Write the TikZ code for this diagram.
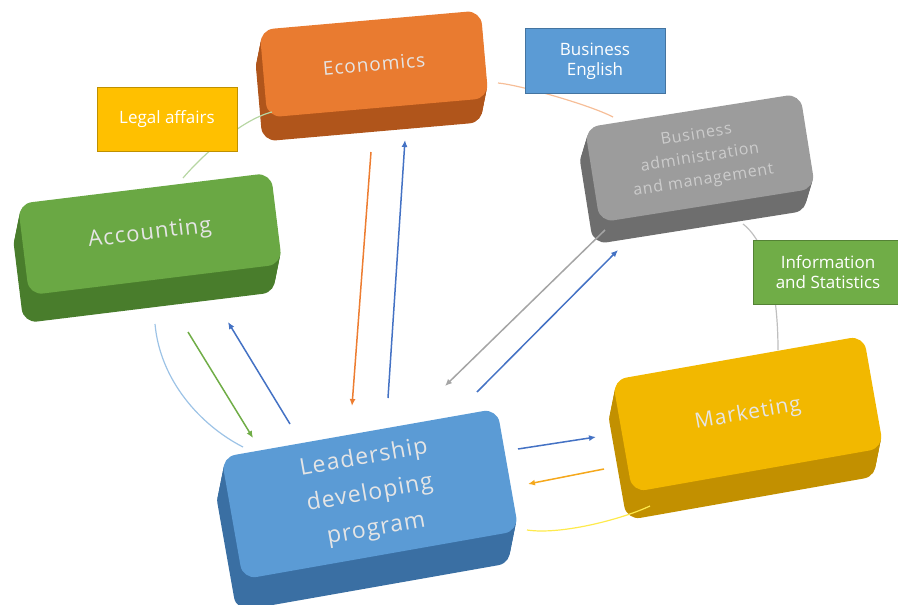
\documentclass[tikz,border=0pt]{standalone}
\usepackage{xcolor}
\usepackage{fontspec}
\setmainfont{Open Sans}
\newfontfamily\slabfont[LetterSpace=5]{Open Sans}
\usetikzlibrary{arrows.meta}

\definecolor{ecoface}{HTML}{E97B30}
\definecolor{ecoside}{HTML}{B0551B}
\definecolor{accface}{HTML}{6AA844}
\definecolor{accside}{HTML}{497D2C}
\definecolor{bamface}{HTML}{9C9C9C}
\definecolor{bamside}{HTML}{6E6E6E}
\definecolor{mktface}{HTML}{F2B800}
\definecolor{mktside}{HTML}{C29000}
\definecolor{ldpface}{HTML}{5B9BD5}
\definecolor{ldpside}{HTML}{3A6FA3}
\definecolor{tagyellow}{HTML}{FFC000}
\definecolor{tagblue}{HTML}{5B9BD5}
\definecolor{taggreen}{HTML}{70AD47}
\definecolor{arrblue}{HTML}{4472C4}
\definecolor{arrorange}{HTML}{ED7D31}
\definecolor{arrgreen}{HTML}{70AD47}
\definecolor{arrgray}{HTML}{A5A5A5}
\definecolor{arryellow}{HTML}{F5A81C}

\tikzset{
  slabface/.style={rectangle, rounded corners=14pt, inner sep=0pt, align=center, text=white!90!black},
  slabside/.style={rectangle, rounded corners=14pt, inner sep=0pt},
  tag/.style={rectangle, draw, line width=1pt, inner sep=0pt, align=center, text=white, font=\fontsize{17}{20}\selectfont},
  link/.style={line width=1.2pt},
  arr/.style={line width=1.5pt, -{Latex[length=7pt,width=6pt]}}
}

\begin{document}
\begin{tikzpicture}[x=1pt, y=-1pt]
  % We will draw the program map here
  \useasboundingbox (0,0) rectangle (898,605);

  % Economics
  \foreach \d in {24,22,...,2}
    \node[slabside, fill=ecoside, minimum width=222pt, minimum height=88pt, xshift={-0.2*\d}, yshift={-\d}, rotate=5] at (374,64) {};
  \node[slabface, fill=ecoface, minimum width=222pt, minimum height=88pt, rotate=5, font=\slabfont\fontsize{19}{22}\selectfont] (eco) at (374,64) {Economics};

  % Accounting
  \foreach \d in {28,26,...,2}
    \node[slabside, fill=accside, minimum width=255pt, minimum height=92pt, xshift={-0.2*\d}, yshift={-\d}, rotate=7] at (150,234) {};
  \node[slabface, fill=accface, minimum width=255pt, minimum height=92pt, rotate=7, font=\slabfont\fontsize{22}{26}\selectfont] (acc) at (150,234) {Accounting};

  % Business administration and management
  \foreach \d in {22,20,...,2}
    \node[slabside, fill=bamside, minimum width=218pt, minimum height=96pt, xshift={-0.3*\d}, yshift={-\d}, rotate=9] at (700,158) {};
  \node[slabface, fill=bamface, minimum width=218pt, minimum height=96pt, rotate=9, text=white!80!black, font=\slabfont\fontsize{16}{23}\selectfont] (bam) at (700,158) {Business\\administration\\and management};

  % Marketing
  \foreach \d in {28,26,...,2}
    \node[slabside, fill=mktside, minimum width=255pt, minimum height=114pt, xshift={-0.2*\d}, yshift={-\d}, rotate=10] at (748,414) {};
  \node[slabface, fill=mktface, minimum width=255pt, minimum height=114pt, rotate=10, font=\slabfont\fontsize{21}{25}\selectfont] (mkt) at (748,414) {Marketing};

  % Leadership developing program
  \foreach \d in {32,30,...,2}
    \node[slabside, fill=ldpside, minimum width=280pt, minimum height=124pt, xshift={-0.2*\d}, yshift={-\d}, rotate=10] at (370,494) {};
  \node[slabface, fill=ldpface, minimum width=280pt, minimum height=124pt, rotate=10, font=\slabfont\fontsize{23}{36}\selectfont] (ldp) at (370,494) {Leadership\\developing\\program};

  % thin links round the ring
  \draw[link, color=arrgreen!50] ([shift={(33,-56)}]acc.center) .. controls (200,158) and (240,120) .. ([shift={(-102,48)}]eco.center);
  \draw[link, color=arrorange!50] ([shift={(124,19)}]eco.center) .. controls (520,85) and (590,105) .. ([shift={(-87,-41)}]bam.center);
  \draw[link, color=black!25] ([shift={(43,66)}]bam.center) .. controls (770,245) and (778,300) .. ([shift={(30,-64)}]mkt.center);
  \draw[link, color=yellow!85!orange!70] ([shift={(-98,92)}]mkt.center) .. controls (620,520) and (560,535) .. ([shift={(157,36)}]ldp.center);
  \draw[link, color=ldpface!60] ([shift={(5,90)}]acc.center) .. controls (160,380) and (200,425) .. ([shift={(-127,-47)}]ldp.center);

  % labels on the links
  \node[tag, fill=tagyellow, draw=tagyellow!75!black, minimum width=140pt, minimum height=64pt] (legal) at (167,119) {Legal affairs};
  \node[tag, fill=tagblue, draw=tagblue!75!black, minimum width=140pt, minimum height=65pt] (beng) at (595,61) {Business\\English};
  \node[tag, fill=taggreen, draw=taggreen!75!black, minimum width=150pt, minimum height=64pt] (info) at (828,272) {Information\\and Statistics};

  % arrows to and from the program
  \draw[arr, color=arrgreen] ([shift={(38,98)}]acc.center) -- ([shift={(-117,-56)}]ldp.center);
  \draw[arr, color=arrblue] ([shift={(-80,-70)}]ldp.center) -- ([shift={(78,88)}]acc.center);
  \draw[arr, color=arrorange] ([shift={(-3,88)}]eco.center) -- ([shift={(-18,-88)}]ldp.center);
  \draw[arr, color=arrblue] ([shift={(18,-96)}]ldp.center) -- ([shift={(31,76)}]eco.center);
  \draw[arr, color=arrgray] ([shift={(-95,72)}]bam.center) -- ([shift={(75,-108)}]ldp.center);
  \draw[arr, color=arrblue] ([shift={(107,-102)}]ldp.center) -- ([shift={(-82,92)}]bam.center);
  \draw[arr, color=arrblue] ([shift={(148,-45)}]ldp.center) -- ([shift={(-152,23)}]mkt.center);
  \draw[arr, color=arryellow] ([shift={(-144,55)}]mkt.center) -- ([shift={(158,-10)}]ldp.center);
\end{tikzpicture}
\end{document}
